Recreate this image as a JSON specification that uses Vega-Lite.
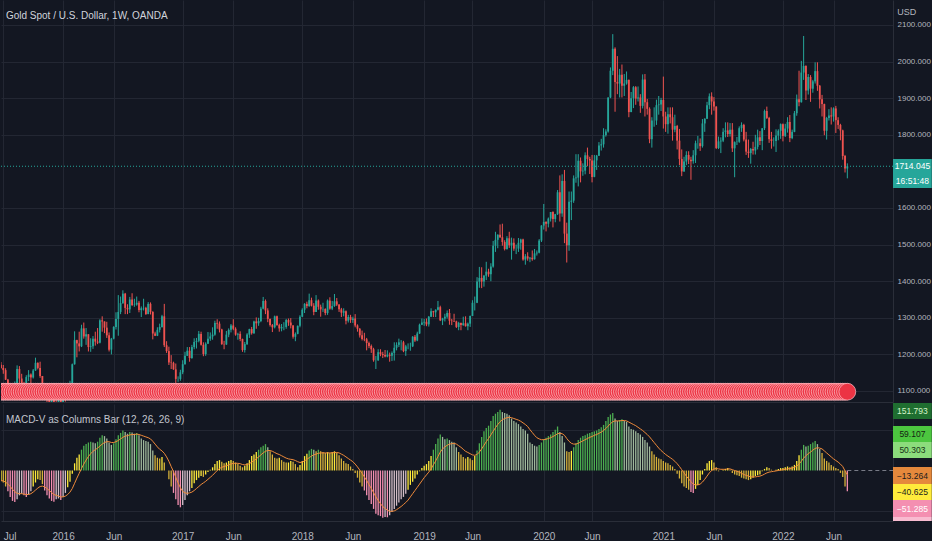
{
"$schema":"https://vega.github.io/schema/vega-lite/v6.json",
"background":"#131722",
"padding":0,
"spacing":1,
"config":{"view":{"stroke":null},"axis":{"labelFont":"Liberation Sans, Arial, sans-serif"}},
"datasets":{"w":[
{"d":"2015-06-29","o":1172,"h":1179,"l":1161,"c":1163,"v":-27,"s":-25,"k":"Y"},
{"d":"2015-07-06","o":1163,"h":1171,"l":1147,"c":1157,"v":-30,"s":-26,"k":"O"},
{"d":"2015-07-13","o":1157,"h":1162,"l":1130,"c":1131,"v":-40,"s":-29,"k":"O"},
{"d":"2015-07-20","o":1131,"h":1133,"l":1077,"c":1098,"v":-52,"s":-34,"k":"P"},
{"d":"2015-07-27","o":1098,"h":1104,"l":1080,"c":1094,"v":-66,"s":-40,"k":"P"},
{"d":"2015-08-03","o":1094,"h":1099,"l":1084,"c":1094,"v":-76,"s":-47,"k":"P"},
{"d":"2015-08-10","o":1094,"h":1126,"l":1094,"c":1113,"v":-79,"s":-53,"k":"P"},
{"d":"2015-08-17","o":1113,"h":1170,"l":1110,"c":1160,"v":-72,"s":-57,"k":"p"},
{"d":"2015-08-24","o":1160,"h":1168,"l":1118,"c":1134,"v":-62,"s":-58,"k":"p"},
{"d":"2015-08-31","o":1134,"h":1147,"l":1116,"c":1121,"v":-58,"s":-58,"k":"p"},
{"d":"2015-09-07","o":1121,"h":1125,"l":1098,"c":1108,"v":-62,"s":-59,"k":"P"},
{"d":"2015-09-14","o":1108,"h":1143,"l":1100,"c":1138,"v":-66,"s":-60,"k":"P"},
{"d":"2015-09-21","o":1138,"h":1157,"l":1127,"c":1145,"v":-60,"s":-60,"k":"p"},
{"d":"2015-09-28","o":1145,"h":1148,"l":1105,"c":1137,"v":-52,"s":-58,"k":"p"},
{"d":"2015-10-05","o":1137,"h":1160,"l":1134,"c":1156,"v":-40,"s":-54,"k":"Y"},
{"d":"2015-10-12","o":1156,"h":1191,"l":1155,"c":1177,"v":-30,"s":-49,"k":"Y"},
{"d":"2015-10-19","o":1177,"h":1178,"l":1159,"c":1163,"v":-22,"s":-44,"k":"Y"},
{"d":"2015-10-26","o":1163,"h":1180,"l":1136,"c":1141,"v":-24,"s":-40,"k":"O"},
{"d":"2015-11-02","o":1141,"h":1141,"l":1085,"c":1088,"v":-34,"s":-39,"k":"O"},
{"d":"2015-11-09","o":1088,"h":1099,"l":1080,"c":1081,"v":-50,"s":-41,"k":"P"},
{"d":"2015-11-16","o":1081,"h":1090,"l":1062,"c":1076,"v":-62,"s":-45,"k":"P"},
{"d":"2015-11-23","o":1076,"h":1078,"l":1052,"c":1057,"v":-70,"s":-50,"k":"P"},
{"d":"2015-11-30","o":1057,"h":1090,"l":1046,"c":1086,"v":-76,"s":-55,"k":"P"},
{"d":"2015-12-07","o":1086,"h":1089,"l":1061,"c":1066,"v":-78,"s":-60,"k":"P"},
{"d":"2015-12-14","o":1066,"h":1088,"l":1047,"c":1065,"v":-72,"s":-62,"k":"p"},
{"d":"2015-12-21","o":1065,"h":1088,"l":1065,"c":1076,"v":-70,"s":-64,"k":"p"},
{"d":"2015-12-28","o":1076,"h":1083,"l":1050,"c":1061,"v":-74,"s":-66,"k":"P"},
{"d":"2016-01-04","o":1061,"h":1112,"l":1061,"c":1097,"v":-66,"s":-66,"k":"p"},
{"d":"2016-01-11","o":1097,"h":1100,"l":1071,"c":1089,"v":-56,"s":-64,"k":"p"},
{"d":"2016-01-18","o":1089,"h":1106,"l":1080,"c":1097,"v":-42,"s":-60,"k":"Y"},
{"d":"2016-01-25","o":1097,"h":1128,"l":1097,"c":1117,"v":-28,"s":-54,"k":"Y"},
{"d":"2016-02-01","o":1117,"h":1175,"l":1112,"c":1173,"v":-8,"s":-45,"k":"Y"},
{"d":"2016-02-08","o":1173,"h":1263,"l":1172,"c":1239,"v":18,"s":-32,"k":"Y"},
{"d":"2016-02-15","o":1239,"h":1240,"l":1192,"c":1230,"v":32,"s":-19,"k":"Y"},
{"d":"2016-02-22","o":1230,"h":1262,"l":1208,"c":1222,"v":40,"s":-7,"k":"Y"},
{"d":"2016-02-29","o":1222,"h":1281,"l":1220,"c":1271,"v":52,"s":5,"k":"G"},
{"d":"2016-03-07","o":1271,"h":1287,"l":1243,"c":1249,"v":62,"s":16,"k":"G"},
{"d":"2016-03-14","o":1249,"h":1272,"l":1226,"c":1255,"v":66,"s":26,"k":"G"},
{"d":"2016-03-21","o":1255,"h":1255,"l":1208,"c":1220,"v":70,"s":35,"k":"G"},
{"d":"2016-03-28","o":1220,"h":1244,"l":1207,"c":1222,"v":72,"s":42,"k":"G"},
{"d":"2016-04-04","o":1222,"h":1250,"l":1215,"c":1243,"v":70,"s":48,"k":"g"},
{"d":"2016-04-11","o":1243,"h":1262,"l":1224,"c":1235,"v":68,"s":52,"k":"g"},
{"d":"2016-04-18","o":1235,"h":1272,"l":1228,"c":1232,"v":72,"s":56,"k":"G"},
{"d":"2016-04-25","o":1232,"h":1296,"l":1230,"c":1293,"v":82,"s":61,"k":"G"},
{"d":"2016-05-02","o":1293,"h":1304,"l":1262,"c":1290,"v":88,"s":66,"k":"G"},
{"d":"2016-05-09","o":1290,"h":1290,"l":1258,"c":1273,"v":86,"s":70,"k":"g"},
{"d":"2016-05-16","o":1273,"h":1289,"l":1245,"c":1252,"v":80,"s":72,"k":"g"},
{"d":"2016-05-23","o":1252,"h":1260,"l":1208,"c":1213,"v":70,"s":72,"k":"g"},
{"d":"2016-05-30","o":1213,"h":1245,"l":1200,"c":1243,"v":64,"s":70,"k":"g"},
{"d":"2016-06-06","o":1243,"h":1277,"l":1241,"c":1275,"v":68,"s":70,"k":"G"},
{"d":"2016-06-13","o":1275,"h":1315,"l":1268,"c":1297,"v":78,"s":72,"k":"G"},
{"d":"2016-06-20","o":1297,"h":1362,"l":1251,"c":1316,"v":88,"s":75,"k":"G"},
{"d":"2016-06-27","o":1316,"h":1358,"l":1310,"c":1340,"v":94,"s":79,"k":"G"},
{"d":"2016-07-04","o":1340,"h":1375,"l":1338,"c":1366,"v":100,"s":83,"k":"G"},
{"d":"2016-07-11","o":1366,"h":1368,"l":1310,"c":1327,"v":96,"s":86,"k":"g"},
{"d":"2016-07-18","o":1327,"h":1337,"l":1310,"c":1323,"v":92,"s":87,"k":"g"},
{"d":"2016-07-25","o":1323,"h":1357,"l":1313,"c":1350,"v":96,"s":89,"k":"G"},
{"d":"2016-08-01","o":1350,"h":1367,"l":1332,"c":1335,"v":95,"s":90,"k":"g"},
{"d":"2016-08-08","o":1335,"h":1352,"l":1330,"c":1336,"v":92,"s":90,"k":"g"},
{"d":"2016-08-15","o":1336,"h":1358,"l":1333,"c":1341,"v":94,"s":91,"k":"G"},
{"d":"2016-08-22","o":1341,"h":1346,"l":1315,"c":1321,"v":88,"s":90,"k":"g"},
{"d":"2016-08-29","o":1321,"h":1331,"l":1302,"c":1326,"v":80,"s":88,"k":"g"},
{"d":"2016-09-05","o":1326,"h":1352,"l":1320,"c":1327,"v":76,"s":86,"k":"g"},
{"d":"2016-09-12","o":1327,"h":1330,"l":1308,"c":1310,"v":74,"s":84,"k":"g"},
{"d":"2016-09-19","o":1310,"h":1343,"l":1310,"c":1338,"v":72,"s":82,"k":"g"},
{"d":"2016-09-26","o":1338,"h":1342,"l":1309,"c":1316,"v":66,"s":79,"k":"g"},
{"d":"2016-10-03","o":1316,"h":1318,"l":1241,"c":1257,"v":50,"s":73,"k":"g"},
{"d":"2016-10-10","o":1257,"h":1262,"l":1250,"c":1251,"v":38,"s":66,"k":"O"},
{"d":"2016-10-17","o":1251,"h":1274,"l":1250,"c":1267,"v":32,"s":59,"k":"O"},
{"d":"2016-10-24","o":1267,"h":1284,"l":1260,"c":1275,"v":30,"s":53,"k":"O"},
{"d":"2016-10-31","o":1275,"h":1308,"l":1273,"c":1304,"v":34,"s":49,"k":"Y"},
{"d":"2016-11-07","o":1304,"h":1338,"l":1220,"c":1225,"v":20,"s":43,"k":"O"},
{"d":"2016-11-14","o":1225,"h":1236,"l":1204,"c":1209,"v":0,"s":34,"k":"O"},
{"d":"2016-11-21","o":1209,"h":1221,"l":1171,"c":1178,"v":-22,"s":23,"k":"O"},
{"d":"2016-11-28","o":1178,"h":1198,"l":1160,"c":1177,"v":-40,"s":10,"k":"O"},
{"d":"2016-12-05","o":1177,"h":1180,"l":1158,"c":1159,"v":-56,"s":-3,"k":"P"},
{"d":"2016-12-12","o":1159,"h":1175,"l":1122,"c":1133,"v":-72,"s":-17,"k":"P"},
{"d":"2016-12-19","o":1133,"h":1140,"l":1125,"c":1133,"v":-86,"s":-31,"k":"P"},
{"d":"2016-12-26","o":1133,"h":1158,"l":1128,"c":1151,"v":-92,"s":-43,"k":"P"},
{"d":"2017-01-02","o":1151,"h":1184,"l":1146,"c":1173,"v":-86,"s":-52,"k":"p"},
{"d":"2017-01-09","o":1173,"h":1207,"l":1172,"c":1196,"v":-74,"s":-56,"k":"p"},
{"d":"2017-01-16","o":1196,"h":1220,"l":1196,"c":1210,"v":-62,"s":-57,"k":"p"},
{"d":"2017-01-23","o":1210,"h":1220,"l":1180,"c":1190,"v":-52,"s":-56,"k":"p"},
{"d":"2017-01-30","o":1190,"h":1226,"l":1188,"c":1220,"v":-44,"s":-54,"k":"Y"},
{"d":"2017-02-06","o":1220,"h":1244,"l":1214,"c":1234,"v":-32,"s":-50,"k":"Y"},
{"d":"2017-02-13","o":1234,"h":1245,"l":1216,"c":1237,"v":-24,"s":-45,"k":"Y"},
{"d":"2017-02-20","o":1237,"h":1264,"l":1233,"c":1256,"v":-18,"s":-40,"k":"Y"},
{"d":"2017-02-27","o":1256,"h":1262,"l":1224,"c":1226,"v":-14,"s":-35,"k":"Y"},
{"d":"2017-03-06","o":1226,"h":1233,"l":1195,"c":1201,"v":-16,"s":-31,"k":"O"},
{"d":"2017-03-13","o":1201,"h":1233,"l":1196,"c":1229,"v":-10,"s":-27,"k":"Y"},
{"d":"2017-03-20","o":1229,"h":1261,"l":1229,"c":1243,"v":-4,"s":-22,"k":"Y"},
{"d":"2017-03-27","o":1243,"h":1260,"l":1237,"c":1249,"v":2,"s":-17,"k":"Y"},
{"d":"2017-04-03","o":1249,"h":1274,"l":1240,"c":1254,"v":8,"s":-12,"k":"Y"},
{"d":"2017-04-10","o":1254,"h":1292,"l":1251,"c":1286,"v":16,"s":-6,"k":"Y"},
{"d":"2017-04-17","o":1286,"h":1296,"l":1270,"c":1284,"v":24,"s":0,"k":"Y"},
{"d":"2017-04-24","o":1284,"h":1290,"l":1260,"c":1268,"v":26,"s":5,"k":"Y"},
{"d":"2017-05-01","o":1268,"h":1270,"l":1226,"c":1228,"v":22,"s":8,"k":"O"},
{"d":"2017-05-08","o":1228,"h":1237,"l":1214,"c":1227,"v":18,"s":10,"k":"O"},
{"d":"2017-05-15","o":1227,"h":1264,"l":1226,"c":1254,"v":20,"s":12,"k":"Y"},
{"d":"2017-05-22","o":1254,"h":1271,"l":1247,"c":1267,"v":24,"s":14,"k":"Y"},
{"d":"2017-05-29","o":1267,"h":1283,"l":1260,"c":1279,"v":26,"s":16,"k":"Y"},
{"d":"2017-06-05","o":1279,"h":1296,"l":1266,"c":1270,"v":24,"s":18,"k":"O"},
{"d":"2017-06-12","o":1270,"h":1274,"l":1251,"c":1254,"v":20,"s":18,"k":"O"},
{"d":"2017-06-19","o":1254,"h":1259,"l":1240,"c":1256,"v":16,"s":18,"k":"O"},
{"d":"2017-06-26","o":1256,"h":1263,"l":1236,"c":1242,"v":12,"s":17,"k":"O"},
{"d":"2017-07-03","o":1242,"h":1243,"l":1207,"c":1212,"v":8,"s":15,"k":"O"},
{"d":"2017-07-10","o":1212,"h":1234,"l":1205,"c":1228,"v":12,"s":14,"k":"Y"},
{"d":"2017-07-17","o":1228,"h":1258,"l":1226,"c":1254,"v":18,"s":15,"k":"Y"},
{"d":"2017-07-24","o":1254,"h":1270,"l":1245,"c":1269,"v":26,"s":17,"k":"Y"},
{"d":"2017-07-31","o":1269,"h":1275,"l":1254,"c":1258,"v":36,"s":21,"k":"Y"},
{"d":"2017-08-07","o":1258,"h":1292,"l":1256,"c":1290,"v":40,"s":25,"k":"Y"},
{"d":"2017-08-14","o":1290,"h":1301,"l":1270,"c":1285,"v":46,"s":29,"k":"Y"},
{"d":"2017-08-21","o":1285,"h":1300,"l":1278,"c":1291,"v":52,"s":34,"k":"G"},
{"d":"2017-08-28","o":1291,"h":1330,"l":1288,"c":1325,"v":58,"s":39,"k":"G"},
{"d":"2017-09-04","o":1325,"h":1357,"l":1323,"c":1346,"v":62,"s":44,"k":"G"},
{"d":"2017-09-11","o":1346,"h":1350,"l":1310,"c":1320,"v":66,"s":48,"k":"G"},
{"d":"2017-09-18","o":1320,"h":1326,"l":1288,"c":1297,"v":58,"s":50,"k":"g"},
{"d":"2017-09-25","o":1297,"h":1298,"l":1276,"c":1280,"v":48,"s":50,"k":"O"},
{"d":"2017-10-02","o":1280,"h":1283,"l":1261,"c":1274,"v":40,"s":48,"k":"O"},
{"d":"2017-10-09","o":1274,"h":1306,"l":1271,"c":1304,"v":32,"s":45,"k":"O"},
{"d":"2017-10-16","o":1304,"h":1306,"l":1278,"c":1280,"v":30,"s":42,"k":"O"},
{"d":"2017-10-23","o":1280,"h":1284,"l":1262,"c":1271,"v":32,"s":40,"k":"Y"},
{"d":"2017-10-30","o":1271,"h":1283,"l":1263,"c":1275,"v":26,"s":37,"k":"O"},
{"d":"2017-11-06","o":1275,"h":1288,"l":1266,"c":1275,"v":22,"s":34,"k":"O"},
{"d":"2017-11-13","o":1275,"h":1297,"l":1270,"c":1294,"v":20,"s":31,"k":"O"},
{"d":"2017-11-20","o":1294,"h":1298,"l":1278,"c":1287,"v":20,"s":29,"k":"Y"},
{"d":"2017-11-27","o":1287,"h":1299,"l":1271,"c":1279,"v":24,"s":28,"k":"Y"},
{"d":"2017-12-04","o":1279,"h":1280,"l":1243,"c":1248,"v":22,"s":27,"k":"O"},
{"d":"2017-12-11","o":1248,"h":1260,"l":1236,"c":1256,"v":16,"s":25,"k":"O"},
{"d":"2017-12-18","o":1256,"h":1279,"l":1255,"c":1278,"v":8,"s":22,"k":"O"},
{"d":"2017-12-25","o":1278,"h":1307,"l":1274,"c":1303,"v":14,"s":20,"k":"Y"},
{"d":"2018-01-01","o":1303,"h":1326,"l":1302,"c":1322,"v":24,"s":21,"k":"Y"},
{"d":"2018-01-08","o":1322,"h":1340,"l":1313,"c":1338,"v":36,"s":24,"k":"Y"},
{"d":"2018-01-15","o":1338,"h":1344,"l":1326,"c":1332,"v":42,"s":28,"k":"Y"},
{"d":"2018-01-22","o":1332,"h":1366,"l":1330,"c":1348,"v":50,"s":32,"k":"G"},
{"d":"2018-01-29","o":1348,"h":1355,"l":1331,"c":1333,"v":54,"s":36,"k":"G"},
{"d":"2018-02-05","o":1333,"h":1340,"l":1307,"c":1316,"v":52,"s":39,"k":"g"},
{"d":"2018-02-12","o":1316,"h":1362,"l":1316,"c":1347,"v":48,"s":41,"k":"O"},
{"d":"2018-02-19","o":1347,"h":1350,"l":1322,"c":1330,"v":52,"s":43,"k":"G"},
{"d":"2018-02-26","o":1330,"h":1336,"l":1303,"c":1323,"v":48,"s":44,"k":"O"},
{"d":"2018-03-05","o":1323,"h":1341,"l":1316,"c":1324,"v":46,"s":44,"k":"O"},
{"d":"2018-03-12","o":1324,"h":1326,"l":1307,"c":1313,"v":44,"s":44,"k":"O"},
{"d":"2018-03-19","o":1313,"h":1350,"l":1308,"c":1347,"v":46,"s":44,"k":"Y"},
{"d":"2018-03-26","o":1347,"h":1356,"l":1322,"c":1325,"v":44,"s":44,"k":"O"},
{"d":"2018-04-02","o":1325,"h":1346,"l":1321,"c":1332,"v":46,"s":44,"k":"Y"},
{"d":"2018-04-09","o":1332,"h":1365,"l":1330,"c":1345,"v":48,"s":45,"k":"Y"},
{"d":"2018-04-16","o":1345,"h":1354,"l":1332,"c":1336,"v":44,"s":45,"k":"O"},
{"d":"2018-04-23","o":1336,"h":1337,"l":1316,"c":1323,"v":38,"s":44,"k":"O"},
{"d":"2018-04-30","o":1323,"h":1327,"l":1302,"c":1314,"v":30,"s":41,"k":"O"},
{"d":"2018-05-07","o":1314,"h":1326,"l":1304,"c":1318,"v":24,"s":38,"k":"O"},
{"d":"2018-05-14","o":1318,"h":1320,"l":1282,"c":1292,"v":18,"s":34,"k":"O"},
{"d":"2018-05-21","o":1292,"h":1308,"l":1287,"c":1302,"v":16,"s":30,"k":"O"},
{"d":"2018-05-28","o":1302,"h":1308,"l":1286,"c":1294,"v":10,"s":26,"k":"O"},
{"d":"2018-06-04","o":1294,"h":1303,"l":1286,"c":1298,"v":4,"s":22,"k":"O"},
{"d":"2018-06-11","o":1298,"h":1310,"l":1274,"c":1279,"v":-6,"s":16,"k":"O"},
{"d":"2018-06-18","o":1279,"h":1282,"l":1262,"c":1270,"v":-18,"s":9,"k":"O"},
{"d":"2018-06-25","o":1270,"h":1272,"l":1246,"c":1252,"v":-30,"s":1,"k":"O"},
{"d":"2018-07-02","o":1252,"h":1265,"l":1238,"c":1242,"v":-40,"s":-7,"k":"O"},
{"d":"2018-07-09","o":1242,"h":1259,"l":1236,"c":1241,"v":-50,"s":-16,"k":"P"},
{"d":"2018-07-16","o":1241,"h":1245,"l":1211,"c":1231,"v":-62,"s":-25,"k":"P"},
{"d":"2018-07-23","o":1231,"h":1235,"l":1217,"c":1223,"v":-74,"s":-35,"k":"P"},
{"d":"2018-07-30","o":1223,"h":1227,"l":1204,"c":1214,"v":-84,"s":-45,"k":"P"},
{"d":"2018-08-06","o":1214,"h":1218,"l":1180,"c":1184,"v":-96,"s":-55,"k":"P"},
{"d":"2018-08-13","o":1184,"h":1196,"l":1160,"c":1184,"v":-108,"s":-66,"k":"P"},
{"d":"2018-08-20","o":1184,"h":1214,"l":1182,"c":1206,"v":-112,"s":-75,"k":"P"},
{"d":"2018-08-27","o":1206,"h":1214,"l":1195,"c":1201,"v":-114,"s":-83,"k":"P"},
{"d":"2018-09-03","o":1201,"h":1207,"l":1190,"c":1198,"v":-118,"s":-90,"k":"P"},
{"d":"2018-09-10","o":1198,"h":1212,"l":1192,"c":1194,"v":-116,"s":-95,"k":"p"},
{"d":"2018-09-17","o":1194,"h":1211,"l":1192,"c":1199,"v":-117,"s":-99,"k":"P"},
{"d":"2018-09-24","o":1199,"h":1205,"l":1180,"c":1196,"v":-112,"s":-102,"k":"p"},
{"d":"2018-10-01","o":1196,"h":1208,"l":1182,"c":1204,"v":-104,"s":-102,"k":"p"},
{"d":"2018-10-08","o":1204,"h":1233,"l":1183,"c":1218,"v":-96,"s":-101,"k":"p"},
{"d":"2018-10-15","o":1218,"h":1233,"l":1211,"c":1226,"v":-88,"s":-98,"k":"p"},
{"d":"2018-10-22","o":1226,"h":1243,"l":1220,"c":1233,"v":-80,"s":-94,"k":"p"},
{"d":"2018-10-29","o":1233,"h":1239,"l":1211,"c":1233,"v":-72,"s":-90,"k":"p"},
{"d":"2018-11-05","o":1233,"h":1237,"l":1206,"c":1209,"v":-66,"s":-85,"k":"p"},
{"d":"2018-11-12","o":1209,"h":1226,"l":1196,"c":1222,"v":-58,"s":-80,"k":"p"},
{"d":"2018-11-19","o":1222,"h":1230,"l":1214,"c":1222,"v":-48,"s":-74,"k":"Y"},
{"d":"2018-11-26","o":1222,"h":1232,"l":1210,"c":1222,"v":-36,"s":-66,"k":"Y"},
{"d":"2018-12-03","o":1222,"h":1250,"l":1220,"c":1248,"v":-28,"s":-58,"k":"Y"},
{"d":"2018-12-10","o":1248,"h":1253,"l":1234,"c":1238,"v":-20,"s":-50,"k":"Y"},
{"d":"2018-12-17","o":1238,"h":1262,"l":1236,"c":1257,"v":-10,"s":-42,"k":"Y"},
{"d":"2018-12-24","o":1257,"h":1284,"l":1256,"c":1281,"v":-2,"s":-34,"k":"Y"},
{"d":"2018-12-31","o":1281,"h":1298,"l":1280,"c":1287,"v":6,"s":-26,"k":"Y"},
{"d":"2019-01-07","o":1287,"h":1297,"l":1278,"c":1289,"v":12,"s":-18,"k":"Y"},
{"d":"2019-01-14","o":1289,"h":1298,"l":1277,"c":1282,"v":16,"s":-11,"k":"Y"},
{"d":"2019-01-21","o":1282,"h":1305,"l":1276,"c":1303,"v":24,"s":-4,"k":"Y"},
{"d":"2019-01-28","o":1303,"h":1326,"l":1302,"c":1318,"v":36,"s":4,"k":"Y"},
{"d":"2019-02-04","o":1318,"h":1319,"l":1302,"c":1315,"v":52,"s":14,"k":"G"},
{"d":"2019-02-11","o":1315,"h":1323,"l":1302,"c":1322,"v":66,"s":24,"k":"G"},
{"d":"2019-02-18","o":1322,"h":1346,"l":1320,"c":1329,"v":80,"s":35,"k":"G"},
{"d":"2019-02-25","o":1329,"h":1333,"l":1291,"c":1293,"v":90,"s":46,"k":"G"},
{"d":"2019-03-04","o":1293,"h":1300,"l":1280,"c":1298,"v":84,"s":54,"k":"g"},
{"d":"2019-03-11","o":1298,"h":1311,"l":1290,"c":1303,"v":78,"s":59,"k":"g"},
{"d":"2019-03-18","o":1303,"h":1320,"l":1298,"c":1313,"v":80,"s":63,"k":"G"},
{"d":"2019-03-25","o":1313,"h":1324,"l":1281,"c":1292,"v":76,"s":66,"k":"g"},
{"d":"2019-04-01","o":1292,"h":1297,"l":1280,"c":1291,"v":72,"s":67,"k":"g"},
{"d":"2019-04-08","o":1291,"h":1311,"l":1289,"c":1290,"v":70,"s":68,"k":"g"},
{"d":"2019-04-15","o":1290,"h":1292,"l":1272,"c":1275,"v":58,"s":66,"k":"g"},
{"d":"2019-04-22","o":1275,"h":1289,"l":1266,"c":1286,"v":46,"s":62,"k":"O"},
{"d":"2019-04-29","o":1286,"h":1287,"l":1266,"c":1280,"v":40,"s":58,"k":"O"},
{"d":"2019-05-06","o":1280,"h":1303,"l":1278,"c":1285,"v":34,"s":53,"k":"O"},
{"d":"2019-05-13","o":1285,"h":1304,"l":1276,"c":1277,"v":30,"s":48,"k":"O"},
{"d":"2019-05-20","o":1277,"h":1287,"l":1266,"c":1284,"v":34,"s":45,"k":"Y"},
{"d":"2019-05-27","o":1284,"h":1306,"l":1275,"c":1305,"v":30,"s":42,"k":"O"},
{"d":"2019-06-03","o":1305,"h":1348,"l":1305,"c":1341,"v":26,"s":39,"k":"O"},
{"d":"2019-06-10","o":1341,"h":1358,"l":1320,"c":1341,"v":36,"s":38,"k":"Y"},
{"d":"2019-06-17","o":1341,"h":1411,"l":1340,"c":1399,"v":50,"s":40,"k":"G"},
{"d":"2019-06-24","o":1399,"h":1439,"l":1382,"c":1409,"v":68,"s":46,"k":"G"},
{"d":"2019-07-01","o":1409,"h":1438,"l":1381,"c":1399,"v":84,"s":54,"k":"G"},
{"d":"2019-07-08","o":1399,"h":1417,"l":1385,"c":1415,"v":98,"s":63,"k":"G"},
{"d":"2019-07-15","o":1415,"h":1453,"l":1403,"c":1426,"v":106,"s":72,"k":"G"},
{"d":"2019-07-22","o":1426,"h":1434,"l":1412,"c":1419,"v":112,"s":80,"k":"G"},
{"d":"2019-07-29","o":1419,"h":1449,"l":1400,"c":1440,"v":124,"s":89,"k":"G"},
{"d":"2019-08-05","o":1440,"h":1510,"l":1437,"c":1497,"v":136,"s":98,"k":"G"},
{"d":"2019-08-12","o":1497,"h":1535,"l":1480,"c":1513,"v":142,"s":107,"k":"G"},
{"d":"2019-08-19","o":1513,"h":1528,"l":1490,"c":1527,"v":146,"s":115,"k":"G"},
{"d":"2019-08-26","o":1527,"h":1555,"l":1518,"c":1520,"v":152,"s":122,"k":"G"},
{"d":"2019-09-02","o":1520,"h":1557,"l":1497,"c":1507,"v":146,"s":127,"k":"g"},
{"d":"2019-09-09","o":1507,"h":1512,"l":1484,"c":1488,"v":144,"s":130,"k":"g"},
{"d":"2019-09-16","o":1488,"h":1523,"l":1486,"c":1517,"v":142,"s":132,"k":"g"},
{"d":"2019-09-23","o":1517,"h":1535,"l":1491,"c":1498,"v":138,"s":133,"k":"g"},
{"d":"2019-09-30","o":1498,"h":1519,"l":1459,"c":1505,"v":130,"s":132,"k":"g"},
{"d":"2019-10-07","o":1505,"h":1517,"l":1483,"c":1489,"v":124,"s":130,"k":"g"},
{"d":"2019-10-14","o":1489,"h":1500,"l":1474,"c":1489,"v":120,"s":128,"k":"g"},
{"d":"2019-10-21","o":1489,"h":1518,"l":1480,"c":1505,"v":116,"s":126,"k":"g"},
{"d":"2019-10-28","o":1505,"h":1516,"l":1486,"c":1514,"v":110,"s":123,"k":"g"},
{"d":"2019-11-04","o":1514,"h":1516,"l":1456,"c":1459,"v":104,"s":119,"k":"g"},
{"d":"2019-11-11","o":1459,"h":1474,"l":1445,"c":1468,"v":100,"s":115,"k":"g"},
{"d":"2019-11-18","o":1468,"h":1479,"l":1456,"c":1462,"v":92,"s":110,"k":"g"},
{"d":"2019-11-25","o":1462,"h":1466,"l":1452,"c":1464,"v":70,"s":102,"k":"g"},
{"d":"2019-12-02","o":1464,"h":1484,"l":1456,"c":1460,"v":66,"s":95,"k":"g"},
{"d":"2019-12-09","o":1460,"h":1488,"l":1459,"c":1476,"v":62,"s":88,"k":"g"},
{"d":"2019-12-16","o":1476,"h":1484,"l":1470,"c":1478,"v":60,"s":82,"k":"g"},
{"d":"2019-12-23","o":1478,"h":1515,"l":1476,"c":1511,"v":64,"s":79,"k":"G"},
{"d":"2019-12-30","o":1511,"h":1553,"l":1507,"c":1552,"v":70,"s":77,"k":"G"},
{"d":"2020-01-06","o":1552,"h":1611,"l":1541,"c":1562,"v":78,"s":77,"k":"G"},
{"d":"2020-01-13","o":1562,"h":1564,"l":1536,"c":1557,"v":82,"s":78,"k":"G"},
{"d":"2020-01-20","o":1557,"h":1574,"l":1547,"c":1571,"v":86,"s":80,"k":"G"},
{"d":"2020-01-27","o":1571,"h":1589,"l":1563,"c":1589,"v":90,"s":82,"k":"G"},
{"d":"2020-02-03","o":1589,"h":1591,"l":1547,"c":1570,"v":96,"s":85,"k":"G"},
{"d":"2020-02-10","o":1570,"h":1584,"l":1561,"c":1583,"v":102,"s":88,"k":"G"},
{"d":"2020-02-17","o":1583,"h":1649,"l":1581,"c":1643,"v":110,"s":92,"k":"G"},
{"d":"2020-02-24","o":1643,"h":1689,"l":1563,"c":1585,"v":96,"s":93,"k":"g"},
{"d":"2020-03-02","o":1585,"h":1692,"l":1576,"c":1674,"v":86,"s":92,"k":"g"},
{"d":"2020-03-09","o":1674,"h":1704,"l":1504,"c":1530,"v":70,"s":88,"k":"g"},
{"d":"2020-03-16","o":1530,"h":1560,"l":1451,"c":1498,"v":48,"s":80,"k":"O"},
{"d":"2020-03-23","o":1498,"h":1645,"l":1483,"c":1617,"v":46,"s":73,"k":"O"},
{"d":"2020-03-30","o":1617,"h":1645,"l":1567,"c":1620,"v":49,"s":68,"k":"Y"},
{"d":"2020-04-06","o":1620,"h":1689,"l":1614,"c":1681,"v":58,"s":66,"k":"G"},
{"d":"2020-04-13","o":1681,"h":1747,"l":1669,"c":1683,"v":68,"s":66,"k":"G"},
{"d":"2020-04-20","o":1683,"h":1747,"l":1659,"c":1729,"v":76,"s":68,"k":"G"},
{"d":"2020-04-27","o":1729,"h":1738,"l":1670,"c":1700,"v":82,"s":71,"k":"G"},
{"d":"2020-05-04","o":1700,"h":1722,"l":1688,"c":1702,"v":86,"s":74,"k":"G"},
{"d":"2020-05-11","o":1702,"h":1752,"l":1692,"c":1744,"v":88,"s":77,"k":"G"},
{"d":"2020-05-18","o":1744,"h":1765,"l":1714,"c":1734,"v":92,"s":80,"k":"G"},
{"d":"2020-05-25","o":1734,"h":1740,"l":1693,"c":1730,"v":94,"s":83,"k":"G"},
{"d":"2020-06-01","o":1730,"h":1745,"l":1670,"c":1685,"v":96,"s":85,"k":"G"},
{"d":"2020-06-08","o":1685,"h":1745,"l":1684,"c":1730,"v":98,"s":88,"k":"G"},
{"d":"2020-06-15","o":1730,"h":1745,"l":1704,"c":1743,"v":100,"s":90,"k":"G"},
{"d":"2020-06-22","o":1743,"h":1780,"l":1742,"c":1771,"v":104,"s":93,"k":"G"},
{"d":"2020-06-29","o":1771,"h":1789,"l":1757,"c":1774,"v":108,"s":96,"k":"G"},
{"d":"2020-07-06","o":1774,"h":1818,"l":1765,"c":1799,"v":114,"s":100,"k":"G"},
{"d":"2020-07-13","o":1799,"h":1815,"l":1795,"c":1809,"v":124,"s":105,"k":"G"},
{"d":"2020-07-20","o":1809,"h":1902,"l":1806,"c":1902,"v":134,"s":111,"k":"G"},
{"d":"2020-07-27","o":1902,"h":1984,"l":1900,"c":1975,"v":140,"s":117,"k":"G"},
{"d":"2020-08-03","o":1975,"h":2075,"l":1963,"c":2035,"v":144,"s":122,"k":"G"},
{"d":"2020-08-10","o":2035,"h":2039,"l":1863,"c":1944,"v":130,"s":124,"k":"g"},
{"d":"2020-08-17","o":1944,"h":2015,"l":1911,"c":1940,"v":124,"s":124,"k":"g"},
{"d":"2020-08-24","o":1940,"h":1980,"l":1902,"c":1964,"v":126,"s":124,"k":"G"},
{"d":"2020-08-31","o":1964,"h":1992,"l":1902,"c":1934,"v":128,"s":125,"k":"G"},
{"d":"2020-09-07","o":1934,"h":1966,"l":1906,"c":1940,"v":124,"s":125,"k":"g"},
{"d":"2020-09-14","o":1940,"h":1973,"l":1937,"c":1950,"v":122,"s":124,"k":"g"},
{"d":"2020-09-21","o":1950,"h":1951,"l":1848,"c":1862,"v":110,"s":121,"k":"g"},
{"d":"2020-09-28","o":1862,"h":1917,"l":1862,"c":1900,"v":104,"s":118,"k":"g"},
{"d":"2020-10-05","o":1900,"h":1933,"l":1873,"c":1930,"v":102,"s":115,"k":"g"},
{"d":"2020-10-12","o":1930,"h":1933,"l":1882,"c":1899,"v":98,"s":112,"k":"g"},
{"d":"2020-10-19","o":1899,"h":1932,"l":1891,"c":1902,"v":94,"s":108,"k":"g"},
{"d":"2020-10-26","o":1902,"h":1911,"l":1860,"c":1879,"v":90,"s":104,"k":"g"},
{"d":"2020-11-02","o":1879,"h":1965,"l":1872,"c":1951,"v":84,"s":100,"k":"g"},
{"d":"2020-11-09","o":1951,"h":1966,"l":1850,"c":1889,"v":76,"s":95,"k":"g"},
{"d":"2020-11-16","o":1889,"h":1898,"l":1855,"c":1871,"v":70,"s":90,"k":"g"},
{"d":"2020-11-23","o":1871,"h":1875,"l":1777,"c":1788,"v":60,"s":84,"k":"g"},
{"d":"2020-11-30","o":1788,"h":1848,"l":1765,"c":1839,"v":48,"s":77,"k":"O"},
{"d":"2020-12-07","o":1839,"h":1875,"l":1822,"c":1839,"v":40,"s":70,"k":"O"},
{"d":"2020-12-14","o":1839,"h":1896,"l":1827,"c":1881,"v":34,"s":63,"k":"O"},
{"d":"2020-12-21","o":1881,"h":1906,"l":1855,"c":1883,"v":30,"s":56,"k":"O"},
{"d":"2020-12-28","o":1883,"h":1901,"l":1865,"c":1895,"v":28,"s":50,"k":"O"},
{"d":"2021-01-04","o":1895,"h":1959,"l":1817,"c":1850,"v":24,"s":45,"k":"O"},
{"d":"2021-01-11","o":1850,"h":1863,"l":1808,"c":1829,"v":20,"s":40,"k":"O"},
{"d":"2021-01-18","o":1829,"h":1875,"l":1803,"c":1856,"v":18,"s":36,"k":"O"},
{"d":"2021-01-25","o":1856,"h":1875,"l":1831,"c":1848,"v":14,"s":32,"k":"O"},
{"d":"2021-02-01","o":1848,"h":1875,"l":1784,"c":1814,"v":10,"s":28,"k":"O"},
{"d":"2021-02-08","o":1814,"h":1855,"l":1807,"c":1824,"v":4,"s":23,"k":"O"},
{"d":"2021-02-15","o":1824,"h":1827,"l":1760,"c":1784,"v":-8,"s":17,"k":"O"},
{"d":"2021-02-22","o":1784,"h":1816,"l":1717,"c":1734,"v":-20,"s":10,"k":"O"},
{"d":"2021-03-01","o":1734,"h":1760,"l":1687,"c":1700,"v":-32,"s":2,"k":"O"},
{"d":"2021-03-08","o":1700,"h":1740,"l":1699,"c":1727,"v":-40,"s":-6,"k":"O"},
{"d":"2021-03-15","o":1727,"h":1755,"l":1717,"c":1745,"v":-44,"s":-14,"k":"O"},
{"d":"2021-03-22","o":1745,"h":1755,"l":1720,"c":1732,"v":-48,"s":-21,"k":"O"},
{"d":"2021-03-29","o":1732,"h":1740,"l":1677,"c":1728,"v":-54,"s":-28,"k":"P"},
{"d":"2021-04-05","o":1728,"h":1758,"l":1721,"c":1744,"v":-56,"s":-34,"k":"P"},
{"d":"2021-04-12","o":1744,"h":1784,"l":1723,"c":1777,"v":-46,"s":-36,"k":"Y"},
{"d":"2021-04-19","o":1777,"h":1797,"l":1762,"c":1777,"v":-36,"s":-36,"k":"Y"},
{"d":"2021-04-26","o":1777,"h":1790,"l":1756,"c":1769,"v":-24,"s":-34,"k":"Y"},
{"d":"2021-05-03","o":1769,"h":1843,"l":1765,"c":1831,"v":-10,"s":-29,"k":"Y"},
{"d":"2021-05-10","o":1831,"h":1845,"l":1808,"c":1844,"v":4,"s":-22,"k":"Y"},
{"d":"2021-05-17","o":1844,"h":1890,"l":1843,"c":1881,"v":18,"s":-14,"k":"Y"},
{"d":"2021-05-24","o":1881,"h":1913,"l":1870,"c":1905,"v":24,"s":-6,"k":"Y"},
{"d":"2021-05-31","o":1905,"h":1916,"l":1855,"c":1891,"v":26,"s":0,"k":"Y"},
{"d":"2021-06-07","o":1891,"h":1903,"l":1866,"c":1877,"v":20,"s":4,"k":"O"},
{"d":"2021-06-14","o":1877,"h":1878,"l":1761,"c":1764,"v":8,"s":5,"k":"O"},
{"d":"2021-06-21","o":1764,"h":1795,"l":1761,"c":1782,"v":-2,"s":4,"k":"O"},
{"d":"2021-06-28","o":1782,"h":1793,"l":1750,"c":1784,"v":0,"s":3,"k":"Y"},
{"d":"2021-07-05","o":1784,"h":1818,"l":1780,"c":1808,"v":2,"s":3,"k":"Y"},
{"d":"2021-07-12","o":1808,"h":1834,"l":1793,"c":1812,"v":4,"s":3,"k":"Y"},
{"d":"2021-07-19","o":1812,"h":1834,"l":1794,"c":1802,"v":6,"s":4,"k":"Y"},
{"d":"2021-07-26","o":1802,"h":1832,"l":1795,"c":1814,"v":2,"s":4,"k":"O"},
{"d":"2021-08-02","o":1814,"h":1832,"l":1753,"c":1763,"v":-6,"s":2,"k":"O"},
{"d":"2021-08-09","o":1763,"h":1782,"l":1684,"c":1780,"v":-10,"s":0,"k":"O"},
{"d":"2021-08-16","o":1780,"h":1794,"l":1772,"c":1781,"v":-12,"s":-2,"k":"O"},
{"d":"2021-08-23","o":1781,"h":1823,"l":1778,"c":1818,"v":-14,"s":-4,"k":"O"},
{"d":"2021-08-30","o":1818,"h":1834,"l":1808,"c":1827,"v":-18,"s":-7,"k":"O"},
{"d":"2021-09-06","o":1827,"h":1830,"l":1782,"c":1787,"v":-20,"s":-10,"k":"O"},
{"d":"2021-09-13","o":1787,"h":1808,"l":1745,"c":1754,"v":-22,"s":-12,"k":"O"},
{"d":"2021-09-20","o":1754,"h":1787,"l":1737,"c":1750,"v":-24,"s":-14,"k":"O"},
{"d":"2021-09-27","o":1750,"h":1764,"l":1721,"c":1761,"v":-22,"s":-16,"k":"Y"},
{"d":"2021-10-04","o":1761,"h":1781,"l":1746,"c":1757,"v":-18,"s":-16,"k":"Y"},
{"d":"2021-10-11","o":1757,"h":1800,"l":1746,"c":1767,"v":-14,"s":-16,"k":"Y"},
{"d":"2021-10-18","o":1767,"h":1814,"l":1760,"c":1793,"v":-12,"s":-15,"k":"Y"},
{"d":"2021-10-25","o":1793,"h":1810,"l":1772,"c":1783,"v":-10,"s":-14,"k":"Y"},
{"d":"2021-11-01","o":1783,"h":1818,"l":1758,"c":1818,"v":-2,"s":-12,"k":"Y"},
{"d":"2021-11-08","o":1818,"h":1869,"l":1813,"c":1865,"v":4,"s":-9,"k":"Y"},
{"d":"2021-11-15","o":1865,"h":1877,"l":1843,"c":1846,"v":8,"s":-6,"k":"Y"},
{"d":"2021-11-22","o":1846,"h":1849,"l":1778,"c":1788,"v":6,"s":-4,"k":"O"},
{"d":"2021-11-29","o":1788,"h":1808,"l":1762,"c":1783,"v":2,"s":-3,"k":"O"},
{"d":"2021-12-06","o":1783,"h":1793,"l":1768,"c":1783,"v":0,"s":-2,"k":"O"},
{"d":"2021-12-13","o":1783,"h":1815,"l":1753,"c":1798,"v":2,"s":-1,"k":"Y"},
{"d":"2021-12-20","o":1798,"h":1815,"l":1785,"c":1811,"v":4,"s":0,"k":"Y"},
{"d":"2021-12-27","o":1811,"h":1831,"l":1789,"c":1829,"v":6,"s":1,"k":"Y"},
{"d":"2022-01-03","o":1829,"h":1831,"l":1782,"c":1797,"v":6,"s":2,"k":"Y"},
{"d":"2022-01-10","o":1797,"h":1830,"l":1794,"c":1817,"v":8,"s":3,"k":"Y"},
{"d":"2022-01-17","o":1817,"h":1848,"l":1806,"c":1835,"v":10,"s":4,"k":"Y"},
{"d":"2022-01-24","o":1835,"h":1854,"l":1780,"c":1791,"v":8,"s":5,"k":"O"},
{"d":"2022-01-31","o":1791,"h":1814,"l":1788,"c":1808,"v":10,"s":6,"k":"Y"},
{"d":"2022-02-07","o":1808,"h":1865,"l":1807,"c":1859,"v":14,"s":8,"k":"Y"},
{"d":"2022-02-14","o":1859,"h":1910,"l":1852,"c":1897,"v":24,"s":11,"k":"Y"},
{"d":"2022-02-21","o":1897,"h":1975,"l":1878,"c":1889,"v":38,"s":16,"k":"Y"},
{"d":"2022-02-28","o":1889,"h":2002,"l":1888,"c":1970,"v":52,"s":23,"k":"G"},
{"d":"2022-03-07","o":1970,"h":2070,"l":1950,"c":1988,"v":64,"s":31,"k":"G"},
{"d":"2022-03-14","o":1988,"h":1990,"l":1895,"c":1921,"v":60,"s":37,"k":"g"},
{"d":"2022-03-21","o":1921,"h":1966,"l":1910,"c":1958,"v":62,"s":42,"k":"G"},
{"d":"2022-03-28","o":1958,"h":1963,"l":1890,"c":1926,"v":66,"s":46,"k":"G"},
{"d":"2022-04-04","o":1926,"h":1950,"l":1915,"c":1946,"v":70,"s":51,"k":"G"},
{"d":"2022-04-11","o":1946,"h":1998,"l":1940,"c":1974,"v":74,"s":55,"k":"G"},
{"d":"2022-04-18","o":1974,"h":1998,"l":1920,"c":1934,"v":66,"s":57,"k":"g"},
{"d":"2022-04-25","o":1934,"h":1936,"l":1872,"c":1897,"v":54,"s":56,"k":"g"},
{"d":"2022-05-02","o":1897,"h":1909,"l":1850,"c":1884,"v":44,"s":54,"k":"O"},
{"d":"2022-05-09","o":1884,"h":1885,"l":1799,"c":1811,"v":30,"s":49,"k":"O"},
{"d":"2022-05-16","o":1811,"h":1849,"l":1787,"c":1846,"v":24,"s":44,"k":"O"},
{"d":"2022-05-23","o":1846,"h":1870,"l":1839,"c":1853,"v":20,"s":39,"k":"O"},
{"d":"2022-05-30","o":1853,"h":1875,"l":1828,"c":1850,"v":14,"s":34,"k":"O"},
{"d":"2022-06-06","o":1850,"h":1875,"l":1836,"c":1872,"v":10,"s":29,"k":"O"},
{"d":"2022-06-13","o":1872,"h":1879,"l":1805,"c":1840,"v":6,"s":25,"k":"O"},
{"d":"2022-06-20","o":1840,"h":1848,"l":1816,"c":1827,"v":4,"s":21,"k":"O"},
{"d":"2022-06-27","o":1827,"h":1830,"l":1785,"c":1812,"v":-6,"s":16,"k":"O"},
{"d":"2022-07-04","o":1812,"h":1814,"l":1732,"c":1742,"v":-16,"s":10,"k":"O"},
{"d":"2022-07-11","o":1742,"h":1745,"l":1697,"c":1708,"v":-40,"s":-1,"k":"O"},
{"d":"2022-07-18","o":1708,"h":1722,"l":1681,"c":1714,"v":-52,"s":-11,"k":"P"}
]},
"vconcat":[
{
"width":892,"height":402,
"layer":[
{"data":{"name":"w"},"mark":{"type":"rule","strokeWidth":1,"clip":true},
"encoding":{
"x":{"field":"d","type":"temporal","title":null,"scale":{"type":"utc","domain":[{"year":2015,"month":6,"date":29,"utc":true},{"year":2022,"month":12,"date":4,"utc":true}]},
"axis":{"values":[{"year":2015,"month":7,"date":6,"utc":true},{"year":2016,"month":1,"date":4,"utc":true},{"year":2016,"month":6,"date":6,"utc":true},{"year":2017,"month":1,"date":2,"utc":true},{"year":2017,"month":6,"date":5,"utc":true},{"year":2018,"month":1,"date":1,"utc":true},{"year":2018,"month":6,"date":4,"utc":true},{"year":2019,"month":1,"date":7,"utc":true},{"year":2019,"month":6,"date":3,"utc":true},{"year":2020,"month":1,"date":6,"utc":true},{"year":2020,"month":6,"date":1,"utc":true},{"year":2021,"month":1,"date":4,"utc":true},{"year":2021,"month":6,"date":7,"utc":true},{"year":2022,"month":1,"date":3,"utc":true},{"year":2022,"month":6,"date":6,"utc":true}],"labels":false,"ticks":false,"domain":true,"domainColor":"#2a2e39","grid":true,"gridColor":"#232733"}},
"y":{"field":"l","type":"quantitative","title":null,"scale":{"domain":[1069.9,2168.3],"nice":false,"zero":false},
"axis":{"orient":"right","values":[1100,1200,1300,1400,1500,1600,1800,1900,2000,2100],"format":".3f","grid":true,"gridColor":"#232733","ticks":false,"domain":true,"domainColor":"#2a2e39","labelColor":"#b2b5be","labelFontSize":8,"labelPadding":4}},
"y2":{"field":"h"},
"color":{"condition":{"test":"datum.c >= datum.o","value":"#26a69a"},"value":"#ef5350"}}},
{"data":{"name":"w"},"mark":{"type":"rule","strokeWidth":1.8,"clip":true},
"encoding":{"x":{"field":"d","type":"temporal","title":null},"y":{"field":"o","type":"quantitative","title":null},"y2":{"field":"c"},
"color":{"condition":{"test":"datum.c >= datum.o","value":"#26a69a"},"value":"#ef5350"}}},
{"data":{"name":"w"},"mark":{"type":"point","shape":"circle","filled":true,"size":283,"fill":"#ec3444","stroke":"#ffc4ca","strokeWidth":0.7,"opacity":1,"clip":true},
"encoding":{"x":{"field":"d","type":"temporal","title":null},"y":{"datum":1098,"type":"quantitative"}}},
{"data":{"values":[{}]},"mark":{"type":"rule","color":"#26a69a","strokeDash":[1,2],"strokeWidth":1},
"encoding":{"y":{"datum":1714.045,"type":"quantitative"}}},
{"data":{"values":[{}]},"mark":{"type":"text","align":"left","baseline":"middle","fontSize":10,"font":"Liberation Sans, Arial, sans-serif","color":"#d1d4dc"},
"encoding":{"x":{"datum":{"year":2015,"month":7,"date":14,"utc":true},"type":"temporal"},"y":{"datum":2124.6,"type":"quantitative"},"text":{"value":"Gold Spot / U.S. Dollar, 1W, OANDA"}}},
{"data":{"values":[{}]},"mark":{"type":"text","align":"left","baseline":"middle","fontSize":9,"font":"Liberation Sans, Arial, sans-serif","color":"#b2b5be"},
"encoding":{"x":{"datum":{"year":2022,"month":12,"date":17,"utc":true},"type":"temporal"},"y":{"datum":2135.5,"type":"quantitative"},"text":{"value":"USD"}}},
{"data":{"values":[{}]},"mark":{"type":"rect","color":"#26a69a"},
"encoding":{"x":{"datum":{"year":2022,"month":12,"date":4,"utc":true},"type":"temporal"},"x2":{"datum":{"year":2023,"month":4,"date":1,"utc":true}},"y":{"datum":1733.9,"type":"quantitative"},"y2":{"datum":1654.6}}},
{"data":{"values":[{}]},"mark":{"type":"text","align":"center","baseline":"middle","fontSize":8.5,"font":"Liberation Sans, Arial, sans-serif","color":"#ffffff"},
"encoding":{"x":{"datum":{"year":2023,"month":2,"date":1,"utc":true},"type":"temporal"},"y":{"datum":1714.8,"type":"quantitative"},"text":{"value":"1714.045"}}},
{"data":{"values":[{}]},"mark":{"type":"text","align":"center","baseline":"middle","fontSize":8.5,"font":"Liberation Sans, Arial, sans-serif","color":"#ffffff"},
"encoding":{"x":{"datum":{"year":2023,"month":2,"date":1,"utc":true},"type":"temporal"},"y":{"datum":1673.8,"type":"quantitative"},"text":{"value":"16:51:48"}}}
]
},
{
"width":892,"height":117,
"layer":[
{"data":{"name":"w"},"mark":{"type":"rule","strokeWidth":1.3,"clip":true},
"encoding":{
"x":{"field":"d","type":"temporal","title":null,"scale":{"type":"utc","domain":[{"year":2015,"month":6,"date":29,"utc":true},{"year":2022,"month":12,"date":4,"utc":true}]},
"axis":{"values":[{"year":2015,"month":7,"date":6,"utc":true},{"year":2016,"month":1,"date":4,"utc":true},{"year":2016,"month":6,"date":6,"utc":true},{"year":2017,"month":1,"date":2,"utc":true},{"year":2017,"month":6,"date":5,"utc":true},{"year":2018,"month":1,"date":1,"utc":true},{"year":2018,"month":6,"date":4,"utc":true},{"year":2019,"month":1,"date":7,"utc":true},{"year":2019,"month":6,"date":3,"utc":true},{"year":2020,"month":1,"date":6,"utc":true},{"year":2020,"month":6,"date":1,"utc":true},{"year":2021,"month":1,"date":4,"utc":true},{"year":2021,"month":6,"date":7,"utc":true},{"year":2022,"month":1,"date":3,"utc":true},{"year":2022,"month":6,"date":6,"utc":true}],
"labelExpr":"utcmonth(datum.value) == 0 ? utcFormat(datum.value, '%Y') : utcFormat(datum.value, '%b')","labelColor":"#b2b5be","labelFontSize":10,"labelPadding":10,"labelFlush":6,"labelOverlap":false,"ticks":false,"domain":true,"domainColor":"#2a2e39","grid":true,"gridColor":"#232733"}},
"y":{"field":"v","type":"quantitative","title":null,"scale":{"domain":[-126.25,166.25],"nice":false,"zero":false},
"axis":{"orient":"right","values":[-100,100],"labels":false,"ticks":false,"grid":true,"gridColor":"#232733","domain":true,"domainColor":"#2a2e39"}},
"y2":{"datum":0},
"color":{"field":"k","type":"nominal","scale":{"domain":["G","g","Y","O","P","p"],"range":["#4caf50","#9fb89b","#ffeb3b","#d6b23a","#f48fb1","#d4bfc9"]},"legend":null}}},
{"data":{"name":"w"},"mark":{"type":"line","color":"#ef8a3a","strokeWidth":1,"clip":true},
"encoding":{"x":{"field":"d","type":"temporal","title":null},"y":{"field":"s","type":"quantitative","title":null}}},
{"data":{"values":[{}]},"mark":{"type":"rule","color":"#787b86","strokeDash":[4,3],"strokeWidth":1},
"encoding":{"x":{"datum":{"year":2022,"month":7,"date":18,"utc":true},"type":"temporal"},"x2":{"datum":{"year":2022,"month":12,"date":4,"utc":true}},"y":{"datum":0,"type":"quantitative"}}},
{"data":{"values":[{}]},"mark":{"type":"text","align":"left","baseline":"middle","fontSize":10,"font":"Liberation Sans, Arial, sans-serif","color":"#c3c6ce"},
"encoding":{"x":{"datum":{"year":2015,"month":7,"date":14,"utc":true},"type":"temporal"},"y":{"datum":126,"type":"quantitative"},"text":{"value":"MACD-V as Columns Bar (12, 26, 26, 9)"}}},
{"data":{"values":[{}]},"mark":{"type":"rect","color":"#1f6e30"},"encoding":{"x":{"datum":{"year":2022,"month":12,"date":4,"utc":true},"type":"temporal"},"x2":{"datum":{"year":2023,"month":4,"date":1,"utc":true}},"y":{"datum":168.75,"type":"quantitative"},"y2":{"datum":128.75}}},
{"data":{"values":[{}]},"mark":{"type":"rect","color":"#4cc63f"},"encoding":{"x":{"datum":{"year":2022,"month":12,"date":4,"utc":true},"type":"temporal"},"x2":{"datum":{"year":2023,"month":4,"date":1,"utc":true}},"y":{"datum":111.25,"type":"quantitative"},"y2":{"datum":71.25}}},
{"data":{"values":[{}]},"mark":{"type":"rect","color":"#8cdc7c"},"encoding":{"x":{"datum":{"year":2022,"month":12,"date":4,"utc":true},"type":"temporal"},"x2":{"datum":{"year":2023,"month":4,"date":1,"utc":true}},"y":{"datum":71.25,"type":"quantitative"},"y2":{"datum":31.25}}},
{"data":{"values":[{}]},"mark":{"type":"rect","color":"#e5893c"},"encoding":{"x":{"datum":{"year":2022,"month":12,"date":4,"utc":true},"type":"temporal"},"x2":{"datum":{"year":2023,"month":4,"date":1,"utc":true}},"y":{"datum":8.75,"type":"quantitative"},"y2":{"datum":-33.75}}},
{"data":{"values":[{}]},"mark":{"type":"rect","color":"#ffeb3b"},"encoding":{"x":{"datum":{"year":2022,"month":12,"date":4,"utc":true},"type":"temporal"},"x2":{"datum":{"year":2023,"month":4,"date":1,"utc":true}},"y":{"datum":-33.75,"type":"quantitative"},"y2":{"datum":-73.75}}},
{"data":{"values":[{}]},"mark":{"type":"rect","color":"#f48fb1"},"encoding":{"x":{"datum":{"year":2022,"month":12,"date":4,"utc":true},"type":"temporal"},"x2":{"datum":{"year":2023,"month":4,"date":1,"utc":true}},"y":{"datum":-73.75,"type":"quantitative"},"y2":{"datum":-116.25}}},
{"data":{"values":[{}]},"mark":{"type":"rect","color":"#f8bbd0"},"encoding":{"x":{"datum":{"year":2022,"month":12,"date":4,"utc":true},"type":"temporal"},"x2":{"datum":{"year":2023,"month":4,"date":1,"utc":true}},"y":{"datum":-116.25,"type":"quantitative"},"y2":{"datum":-126.25}}},
{"data":{"values":[{}]},"mark":{"type":"text","align":"center","baseline":"middle","fontSize":8.5,"font":"Liberation Sans, Arial, sans-serif","color":"#d6f5c9"},"encoding":{"x":{"datum":{"year":2023,"month":2,"date":1,"utc":true},"type":"temporal"},"y":{"datum":148.75,"type":"quantitative"},"text":{"value":"151.793"}}},
{"data":{"values":[{}]},"mark":{"type":"text","align":"center","baseline":"middle","fontSize":8.5,"font":"Liberation Sans, Arial, sans-serif","color":"#132313"},"encoding":{"x":{"datum":{"year":2023,"month":2,"date":1,"utc":true},"type":"temporal"},"y":{"datum":91.25,"type":"quantitative"},"text":{"value":"59.107"}}},
{"data":{"values":[{}]},"mark":{"type":"text","align":"center","baseline":"middle","fontSize":8.5,"font":"Liberation Sans, Arial, sans-serif","color":"#173317"},"encoding":{"x":{"datum":{"year":2023,"month":2,"date":1,"utc":true},"type":"temporal"},"y":{"datum":51.25,"type":"quantitative"},"text":{"value":"50.303"}}},
{"data":{"values":[{}]},"mark":{"type":"text","align":"center","baseline":"middle","fontSize":8.5,"font":"Liberation Sans, Arial, sans-serif","color":"#1c1c1c"},"encoding":{"x":{"datum":{"year":2023,"month":2,"date":1,"utc":true},"type":"temporal"},"y":{"datum":-12.5,"type":"quantitative"},"text":{"value":"\u221213.264"}}},
{"data":{"values":[{}]},"mark":{"type":"text","align":"center","baseline":"middle","fontSize":8.5,"font":"Liberation Sans, Arial, sans-serif","color":"#1c1c1c"},"encoding":{"x":{"datum":{"year":2023,"month":2,"date":1,"utc":true},"type":"temporal"},"y":{"datum":-53.75,"type":"quantitative"},"text":{"value":"\u221240.625"}}},
{"data":{"values":[{}]},"mark":{"type":"text","align":"center","baseline":"middle","fontSize":8.5,"font":"Liberation Sans, Arial, sans-serif","color":"#ffffff"},"encoding":{"x":{"datum":{"year":2023,"month":2,"date":1,"utc":true},"type":"temporal"},"y":{"datum":-95,"type":"quantitative"},"text":{"value":"\u221251.285"}}}
]
}
]
}
